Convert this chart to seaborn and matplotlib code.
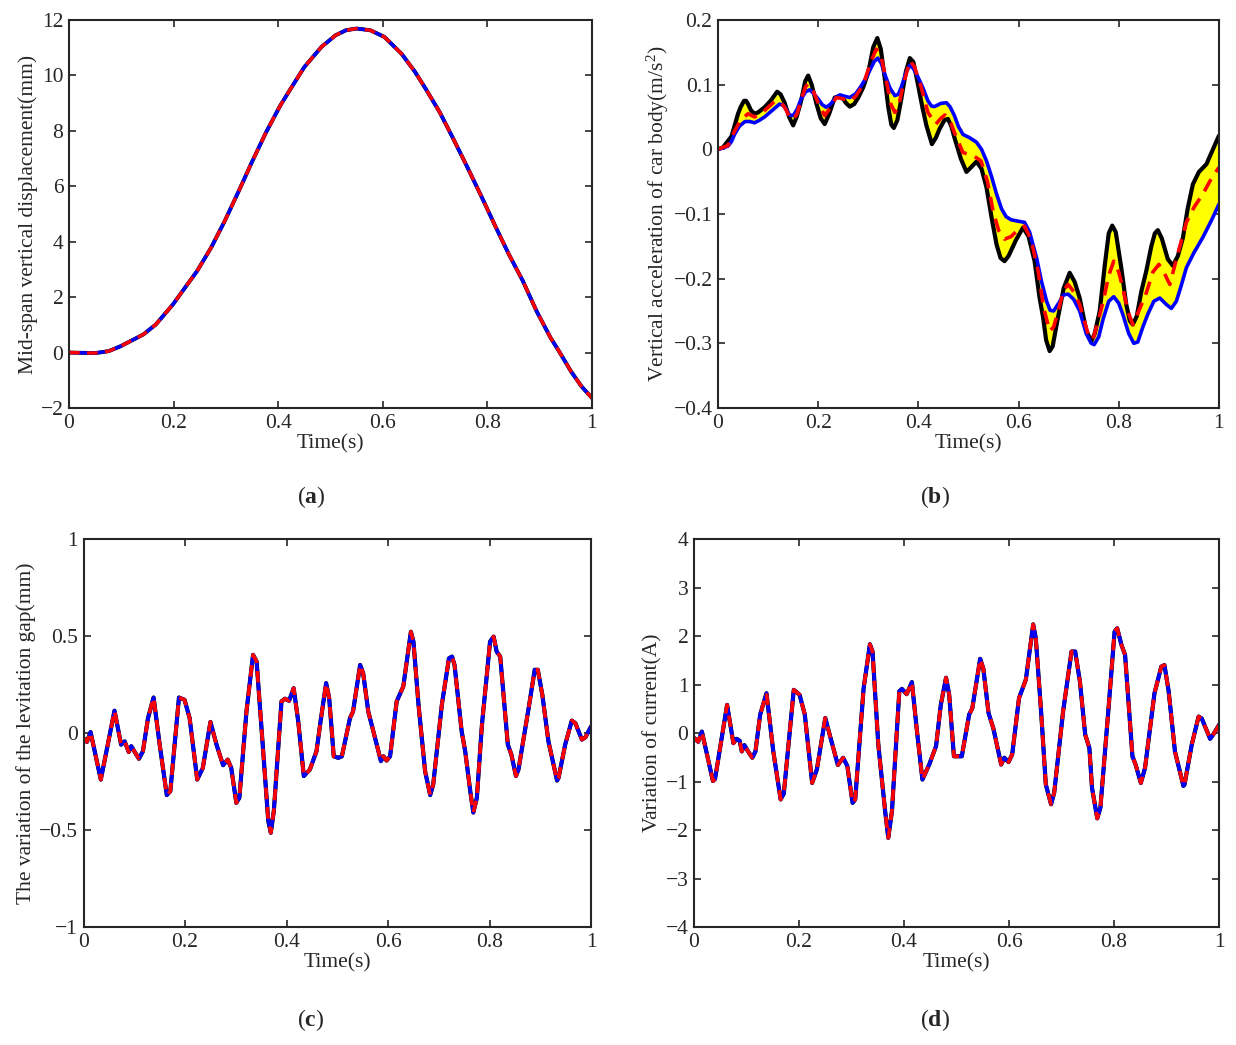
import matplotlib
matplotlib.use("Agg")
import matplotlib.pyplot as plt
import seaborn as sns
from matplotlib.ticker import FuncFormatter, MultipleLocator

# ---- panel (a): mid-span vertical displacement (mm)
t_disp = [0, 0.05, 0.076, 0.099, 0.142, 0.166, 0.199, 0.215, 0.245, 0.272,
          0.298, 0.325, 0.351, 0.377, 0.404, 0.424, 0.45, 0.483, 0.51, 0.53,
          0.55, 0.576, 0.603, 0.636, 0.662, 0.682, 0.709, 0.735, 0.762, 0.788,
          0.815, 0.841, 0.868, 0.894, 0.921, 0.937, 0.96, 0.98, 1.0]
disp = [0, -0.02, 0.05, 0.23, 0.65, 1.01, 1.74, 2.16, 2.94, 3.79,
        4.75, 5.84, 6.92, 7.95, 8.91, 9.52, 10.3, 11.03, 11.45, 11.63,
        11.69, 11.63, 11.39, 10.78, 10.12, 9.52, 8.67, 7.71, 6.68, 5.66,
        4.57, 3.55, 2.58, 1.50, 0.53, 0.05, -0.68, -1.22, -1.64]

# ---- panel (b): vertical acceleration of car body, three curves
t_acc_black = [0, 0.01, 0.027, 0.04, 0.045, 0.052, 0.056, 0.06, 0.066, 0.073,
               0.08, 0.093, 0.105, 0.118, 0.125, 0.133, 0.142, 0.15, 0.157, 0.166,
               0.174, 0.18, 0.187, 0.196, 0.205, 0.213, 0.222, 0.233, 0.246, 0.255,
               0.263, 0.272, 0.28, 0.29, 0.30, 0.31, 0.318, 0.325, 0.333, 0.34,
               0.346, 0.351, 0.358, 0.366, 0.375, 0.383, 0.39, 0.399, 0.408, 0.416,
               0.427, 0.435, 0.442, 0.452, 0.459, 0.466, 0.472, 0.485, 0.496, 0.505,
               0.516, 0.526, 0.536, 0.546, 0.556, 0.564, 0.572, 0.58, 0.595, 0.609,
               0.62, 0.632, 0.642, 0.649, 0.655, 0.662, 0.668, 0.676, 0.69, 0.702,
               0.712, 0.722, 0.735, 0.745, 0.752, 0.762, 0.772, 0.78, 0.787, 0.794,
               0.805, 0.815, 0.822, 0.828, 0.836, 0.845, 0.855, 0.865, 0.872, 0.878,
               0.886, 0.898, 0.908, 0.918, 0.928, 0.938, 0.948, 0.96, 0.975, 0.988,
               1.0]
acc_black = [0, 0.003, 0.02, 0.055, 0.065, 0.075, 0.075, 0.07, 0.06, 0.055,
             0.057, 0.065, 0.075, 0.089, 0.085, 0.072, 0.05, 0.037, 0.05, 0.075,
             0.105, 0.114, 0.1, 0.072, 0.048, 0.039, 0.055, 0.080, 0.083, 0.072,
             0.066, 0.07, 0.080, 0.096, 0.119, 0.158, 0.172, 0.155, 0.109, 0.065,
             0.038, 0.033, 0.045, 0.078, 0.12, 0.141, 0.135, 0.101, 0.065, 0.037,
             0.008, 0.018, 0.031, 0.045, 0.047, 0.035, 0.018, -0.015, -0.035, -0.028,
             -0.019, -0.03, -0.059, -0.105, -0.147, -0.168, -0.173, -0.165, -0.14, -0.121,
             -0.135, -0.173, -0.23, -0.26, -0.295, -0.312, -0.305, -0.271, -0.215, -0.191,
             -0.205, -0.23, -0.28, -0.297, -0.285, -0.25, -0.18, -0.13, -0.118, -0.128,
             -0.183, -0.24, -0.265, -0.271, -0.258, -0.22, -0.188, -0.15, -0.13, -0.125,
             -0.138, -0.17, -0.18, -0.165, -0.137, -0.09, -0.054, -0.035, -0.023, 0.0,
             0.021]

t_acc_blue = [0, 0.01, 0.02, 0.027, 0.033, 0.043, 0.054, 0.063, 0.073, 0.083,
              0.093, 0.108, 0.123, 0.13, 0.136, 0.143, 0.15, 0.158, 0.166, 0.175,
              0.183, 0.19, 0.2, 0.208, 0.216, 0.225, 0.235, 0.243, 0.253, 0.263,
              0.275, 0.286, 0.295, 0.303, 0.312, 0.319, 0.326, 0.333, 0.343, 0.353,
              0.36, 0.366, 0.375, 0.383, 0.39, 0.399, 0.409, 0.419, 0.426, 0.432,
              0.445, 0.456, 0.463, 0.472, 0.48, 0.489, 0.502, 0.516, 0.526, 0.536,
              0.546, 0.556, 0.566, 0.575, 0.585, 0.598, 0.612, 0.622, 0.636, 0.646,
              0.656, 0.663, 0.670, 0.68, 0.69, 0.699, 0.71, 0.722, 0.735, 0.745,
              0.751, 0.76, 0.769, 0.78, 0.79, 0.8, 0.808, 0.82, 0.83, 0.838,
              0.848, 0.858, 0.87, 0.882, 0.895, 0.905, 0.915, 0.925, 0.935, 0.95,
              0.968, 0.985, 1.0]
acc_blue = [0, 0.002, 0.005, 0.012, 0.023, 0.036, 0.043, 0.043, 0.041, 0.045,
            0.05, 0.06, 0.07, 0.068, 0.062, 0.053, 0.052, 0.062, 0.078, 0.089,
            0.092, 0.087, 0.078, 0.069, 0.065, 0.07, 0.08, 0.084, 0.082, 0.080,
            0.086, 0.098, 0.11, 0.122, 0.136, 0.141, 0.133, 0.116, 0.095, 0.083,
            0.085, 0.096, 0.118, 0.130, 0.125, 0.112, 0.095, 0.075, 0.067, 0.066,
            0.071, 0.072, 0.066, 0.052, 0.035, 0.023, 0.018, 0.011, 0.0, -0.018,
            -0.042, -0.069, -0.092, -0.104, -0.109, -0.111, -0.113, -0.128, -0.168, -0.205,
            -0.235, -0.249, -0.25, -0.238, -0.225, -0.224, -0.232, -0.25, -0.285, -0.3,
            -0.302, -0.29, -0.262, -0.235, -0.228, -0.238, -0.255, -0.285, -0.3, -0.298,
            -0.275, -0.255, -0.235, -0.23, -0.24, -0.246, -0.235, -0.21, -0.183, -0.16,
            -0.136, -0.11, -0.085]

t_acc_red = [0, 0.02, 0.033, 0.045, 0.06, 0.073, 0.09, 0.113, 0.125, 0.133,
             0.143, 0.15, 0.158, 0.166, 0.175, 0.18, 0.19, 0.2, 0.213, 0.225,
             0.236, 0.25, 0.263, 0.275, 0.29, 0.305, 0.316, 0.325, 0.335, 0.345,
             0.353, 0.36, 0.37, 0.383, 0.392, 0.405, 0.419, 0.435, 0.445, 0.453,
             0.465, 0.475, 0.489, 0.51, 0.525, 0.538, 0.549, 0.56, 0.572, 0.585,
             0.598, 0.612, 0.625, 0.639, 0.65, 0.662, 0.67, 0.679, 0.69, 0.699,
             0.71, 0.722, 0.733, 0.742, 0.75, 0.76, 0.769, 0.78, 0.79, 0.8,
             0.808, 0.818, 0.828, 0.84, 0.855, 0.868, 0.88, 0.89, 0.902, 0.915,
             0.935, 0.95, 0.968, 0.985, 1.0]
acc_red = [0, 0.006, 0.028, 0.045, 0.055, 0.05, 0.058, 0.074, 0.073, 0.065,
           0.05, 0.046, 0.055, 0.077, 0.097, 0.101, 0.09, 0.072, 0.052, 0.065,
           0.08, 0.078, 0.074, 0.082, 0.10, 0.135, 0.155, 0.145, 0.11, 0.07,
           0.057, 0.065, 0.1, 0.137, 0.128, 0.098, 0.057, 0.039, 0.048, 0.053,
           0.04, 0.02, -0.005, -0.01, -0.018, -0.05, -0.095, -0.125, -0.139, -0.135,
           -0.125, -0.119, -0.14, -0.188, -0.245, -0.281, -0.275, -0.25, -0.218, -0.209,
           -0.22, -0.24, -0.27, -0.294, -0.29, -0.262, -0.235, -0.195, -0.173, -0.19,
           -0.214, -0.25, -0.271, -0.25, -0.222, -0.19, -0.178, -0.19, -0.209, -0.17,
           -0.113, -0.09, -0.069, -0.045, -0.028]

# ---- panel (c): variation of the levitation gap (mm)
t_gap = [0, 0.0066, 0.0138, 0.034, 0.061, 0.074, 0.081, 0.089, 0.094, 0.1,
         0.109, 0.117, 0.127, 0.138, 0.15, 0.164, 0.171, 0.188, 0.199, 0.209,
         0.224, 0.235, 0.25, 0.262, 0.275, 0.284, 0.291, 0.301, 0.307, 0.321,
         0.334, 0.341, 0.353, 0.364, 0.369, 0.375, 0.39, 0.397, 0.405, 0.414,
         0.423, 0.434, 0.446, 0.459, 0.467, 0.478, 0.484, 0.493, 0.502, 0.509,
         0.525, 0.531, 0.545, 0.551, 0.561, 0.571, 0.586, 0.591, 0.597, 0.604,
         0.617, 0.63, 0.645, 0.65, 0.66, 0.673, 0.683, 0.689, 0.706, 0.72,
         0.726, 0.731, 0.745, 0.752, 0.762, 0.768, 0.775, 0.785, 0.801, 0.808,
         0.814, 0.821, 0.836, 0.843, 0.852, 0.857, 0.877, 0.889, 0.895, 0.904,
         0.916, 0.933, 0.936, 0.949, 0.962, 0.969, 0.982, 0.989, 1.0]
gap = [-0.026, -0.046, 0.005, -0.24, 0.115, -0.06, -0.043, -0.098, -0.068, -0.094,
       -0.133, -0.094, 0.077, 0.183, -0.06, -0.32, -0.30, 0.183, 0.171, 0.077,
       -0.24, -0.18, 0.057, -0.06, -0.166, -0.137, -0.18, -0.36, -0.334, 0.111,
       0.403, 0.368, -0.06, -0.454, -0.514, -0.40, 0.163, 0.177, 0.166, 0.231,
       0.06, -0.222, -0.188, -0.094, 0.06, 0.257, 0.18, -0.12, -0.128, -0.12,
       0.077, 0.111, 0.351, 0.308, 0.111, 0.009, -0.145, -0.12, -0.142, -0.12,
       0.163, 0.24, 0.522, 0.471, 0.146, -0.197, -0.32, -0.265, 0.146, 0.385,
       0.394, 0.351, 0.009, -0.094, -0.30, -0.41, -0.334, 0.043, 0.471, 0.497,
       0.42, 0.394, -0.06, -0.111, -0.222, -0.188, 0.128, 0.326, 0.326, 0.197,
       -0.043, -0.245, -0.231, -0.06, 0.064, 0.051, -0.034, -0.022, 0.034]

# ---- panel (d): variation of current (A)
t_cur = [0, 0.008, 0.015, 0.036, 0.04, 0.063, 0.075, 0.081, 0.087, 0.091,
         0.096, 0.103, 0.111, 0.117, 0.126, 0.138, 0.151, 0.165, 0.171, 0.19,
         0.201, 0.211, 0.225, 0.234, 0.25, 0.26, 0.274, 0.284, 0.292, 0.302,
         0.307, 0.323, 0.335, 0.340, 0.351, 0.364, 0.370, 0.377, 0.391, 0.396,
         0.405, 0.415, 0.424, 0.435, 0.448, 0.461, 0.47, 0.48, 0.486, 0.495,
         0.51, 0.524, 0.53, 0.545, 0.551, 0.561, 0.570, 0.585, 0.591, 0.599,
         0.606, 0.619, 0.632, 0.646, 0.651, 0.661, 0.670, 0.68, 0.686, 0.703,
         0.719, 0.726, 0.735, 0.745, 0.753, 0.758, 0.768, 0.774, 0.79, 0.801,
         0.806, 0.814, 0.821, 0.835, 0.841, 0.851, 0.859, 0.877, 0.89, 0.896,
         0.904, 0.916, 0.932, 0.934, 0.948, 0.961, 0.967, 0.983, 0.989, 1.0]
cur = [-0.10, -0.18, 0.03, -0.99, -0.95, 0.58, -0.21, -0.12, -0.16, -0.38,
       -0.25, -0.38, -0.51, -0.38, 0.38, 0.82, -0.38, -1.37, -1.25, 0.89,
       0.79, 0.38, -1.03, -0.75, 0.31, -0.10, -0.66, -0.51, -0.68, -1.44,
       -1.37, 0.92, 1.83, 1.68, -0.24, -1.61, -2.16, -1.61, 0.86, 0.91,
       0.80, 1.05, 0.10, -0.96, -0.65, -0.27, 0.58, 1.14, 0.79, -0.48,
       -0.48, 0.38, 0.51, 1.53, 1.33, 0.41, 0.10, -0.65, -0.51, -0.60,
       -0.44, 0.72, 1.10, 2.24, 1.95, 0.45, -1.06, -1.47, -1.23, 0.45,
       1.68, 1.68, 1.06, -0.03, -0.31, -1.13, -1.76, -1.54, 0.58, 2.09,
       2.16, 1.82, 1.61, -0.48, -0.65, -1.03, -0.72, 0.82, 1.37, 1.40,
       0.86, -0.38, -1.09, -1.07, -0.24, 0.34, 0.30, -0.12, -0.03, 0.17]

for a, b in [(t_disp, disp), (t_acc_black, acc_black), (t_acc_blue, acc_blue),
             (t_acc_red, acc_red), (t_gap, gap), (t_cur, cur)]:
    assert len(a) == len(b), (len(a), len(b))

sns.set_style("ticks")
plt.rcParams["font.family"] = ["Liberation Serif", "DejaVu Serif"]
plt.rcParams["mathtext.fontset"] = "custom"
plt.rcParams["mathtext.rm"] = "Liberation Serif"
plt.rcParams["mathtext.it"] = "Liberation Serif:italic"
plt.rcParams["mathtext.bf"] = "Liberation Serif:bold"
plt.rcParams["font.size"] = 15.5

FS = 15.5
DASH = (3.2, 2.2)


def tick_fmt(v, pos):
    s = "%g" % round(v, 6)
    return s.replace("-", "\u2212")


def style_axis(ax, ylim, ystep, ylabel):
    ax.set_xlim(0, 1)
    ax.set_ylim(*ylim)
    ax.xaxis.set_major_locator(MultipleLocator(0.2))
    ax.yaxis.set_major_locator(MultipleLocator(ystep))
    ax.xaxis.set_major_formatter(FuncFormatter(tick_fmt))
    ax.yaxis.set_major_formatter(FuncFormatter(tick_fmt))
    ax.tick_params(direction="in", length=5, width=1.2, top=True, right=True,
                   labelsize=FS, pad=4, colors="#262626")
    for sp in ax.spines.values():
        sp.set_visible(True)
        sp.set_linewidth(1.5)
        sp.set_color("#262626")
    ax.set_xlabel("Time(s)", fontsize=FS, labelpad=1)
    ax.set_ylabel(ylabel, fontsize=FS, labelpad=2)


def three_lines(ax, t, y, lw=2.6):
    # black and blue coincide here, red dashed drawn on top
    sns.lineplot(x=t, y=y, ax=ax, color="black", lw=lw + 0.4, estimator=None, sort=False)
    sns.lineplot(x=t, y=y, ax=ax, color="blue", lw=lw, estimator=None, sort=False)
    sns.lineplot(x=t, y=y, ax=ax, color="red", lw=lw, estimator=None,
                 sort=False).lines[-1].set_dashes(DASH)


fig = plt.figure(figsize=(12.36, 10.45), dpi=100)
ax_a = fig.add_axes([0.0558, 0.6096, 0.4231, 0.3713])
ax_b = fig.add_axes([0.5809, 0.6096, 0.4053, 0.3713])
ax_c = fig.add_axes([0.0676, 0.1129, 0.4106, 0.3713])
ax_d = fig.add_axes([0.5615, 0.1129, 0.4248, 0.3713])

# (a)
three_lines(ax_a, t_disp, disp, lw=2.4)
style_axis(ax_a, (-2, 12), 2, "Mid-span vertical displacement(mm)")

# (b) yellow band between the black and blue curves
ax_b.fill(t_acc_black + t_acc_blue[::-1], acc_black + acc_blue[::-1],
          color="#FFFF00", lw=0, zorder=1)
sns.lineplot(x=t_acc_black, y=acc_black, ax=ax_b, color="black", lw=3.0,
             estimator=None, sort=False)
sns.lineplot(x=t_acc_blue, y=acc_blue, ax=ax_b, color="blue", lw=2.6,
             estimator=None, sort=False)
sns.lineplot(x=t_acc_red, y=acc_red, ax=ax_b, color="red", lw=2.6,
             estimator=None, sort=False).lines[-1].set_dashes((3.8, 2.4))
style_axis(ax_b, (-0.4, 0.2), 0.1, r"Vertical acceleration of car body(m/s$^{2}$)")

# (c)
three_lines(ax_c, t_gap, gap)
style_axis(ax_c, (-1, 1), 0.5, "The variation of the levitation gap(mm)")

# (d)
three_lines(ax_d, t_cur, cur)
style_axis(ax_d, (-4, 4), 1, "Variation of current(A)")

for x, y, s in [(0.2516, 0.5244, "a"), (0.7565, 0.5244, "b"),
                (0.2516, 0.0239, "c"), (0.7565, 0.0239, "d")]:
    fig.text(x, y, "($\\mathbf{%s}$)" % s, ha="center", va="center", fontsize=17)

fig.savefig("out.png", dpi=100, facecolor="white")
